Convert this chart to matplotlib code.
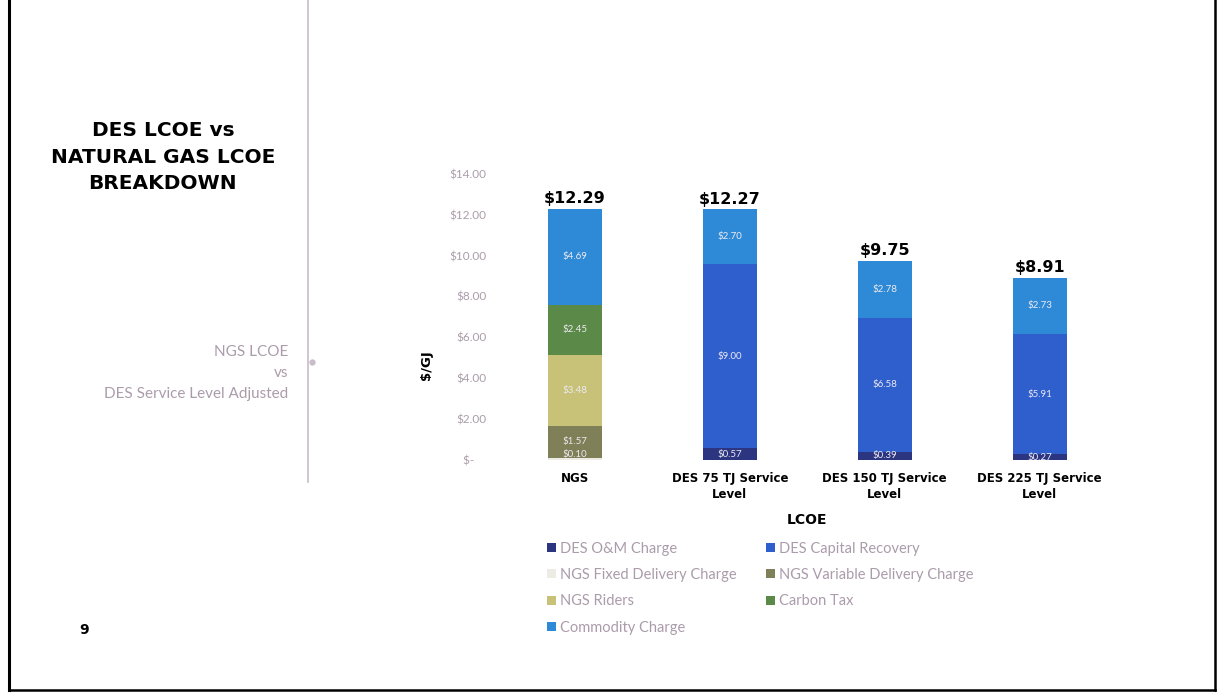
import numpy as np
import matplotlib.pyplot as plt
from matplotlib.lines import Line2D

# categories and stacked components ($/GJ)
categories = ["NGS", "DES 75 TJ Service\nLevel", "DES 150 TJ Service\nLevel", "DES 225 TJ Service\nLevel"]
des_om = [0.00, 0.57, 0.39, 0.27]
des_capital = [0.00, 9.00, 6.58, 5.91]
ngs_fixed = [0.10, 0.00, 0.00, 0.00]
ngs_variable = [1.57, 0.00, 0.00, 0.00]
ngs_riders = [3.48, 0.00, 0.00, 0.00]
carbon_tax = [2.45, 0.00, 0.00, 0.00]
commodity = [4.69, 2.70, 2.78, 2.73]

series_names = ["DES O&M Charge", "DES Capital Recovery", "NGS Fixed Delivery Charge",
                "NGS Variable Delivery Charge", "NGS Riders", "Carbon Tax", "Commodity Charge"]
series_vals = [des_om, des_capital, ngs_fixed, ngs_variable, ngs_riders, carbon_tax, commodity]
series_cols = ["#2b3580", "#2f5fcc", "#ecebe4", "#7f7f58", "#c8c178", "#5b8a48", "#2e8ad6"]

yticks = [0, 2, 4, 6, 8, 10, 12, 14]
ytick_labels = ["$-    ", "$2.00", "$4.00", "$6.00", "$8.00", "$10.00", "$12.00", "$14.00"]

MUTED = "#ab9cab"

fig = plt.figure(figsize=(12.25, 6.98), dpi=100)
fig.patch.set_facecolor("white")

# page frame (left, bottom, right) and side divider
fig.add_artist(Line2D([0.007, 0.007], [0.012, 1.0], transform=fig.transFigure,
                      color="black", linewidth=2.2))
fig.add_artist(Line2D([0.007, 0.992], [0.012, 0.012], transform=fig.transFigure,
                      color="black", linewidth=1.8))
fig.add_artist(Line2D([0.992, 0.992], [0.012, 1.0], transform=fig.transFigure,
                      color="black", linewidth=1.8))
fig.add_artist(Line2D([0.2515, 0.2515], [0.31, 1.0], transform=fig.transFigure,
                      color="#c8bcc8", linewidth=1.2))
fig.add_artist(Line2D([0.2545], [0.481], transform=fig.transFigure, marker="o",
                      markersize=3.5, color="#c8bcc8"))

fig.text(0.133, 0.775, "DES LCOE vs\nNATURAL GAS LCOE\nBREAKDOWN", ha="center", va="center",
         fontsize=14.5, fontweight="bold", linespacing=1.5, family="DejaVu Sans")
fig.text(0.235, 0.466, "NGS LCOE\nvs\nDES Service Level Adjusted", ha="right", va="center",
         fontsize=11, color=MUTED, linespacing=1.65, family="Lato")
fig.text(0.069, 0.098, "9", ha="center", va="center", fontsize=10, fontweight="bold")

ax = fig.add_axes([0.406, 0.341, 0.506, 0.410])
x = np.arange(len(categories))
bottom = np.zeros(len(categories))
for name, vals, col in zip(series_names, series_vals, series_cols):
    vals = np.array(vals)
    ax.bar(x, vals, 0.35, bottom=bottom, color=col, label=name)
    for xi, v, b in zip(x, vals, bottom):
        if v > 0.05:
            ypos = b + v / 2
            if v < 0.2:
                ypos = b + 0.25
            ax.text(xi, ypos, f"${v:.2f}", ha="center", va="center", fontsize=7,
                    color="#eeeaf2", family="Lato")
    bottom += vals

for xi, t in zip(x, bottom):
    ax.text(xi, t + 0.12, f"${t:.2f}", ha="center", va="bottom", fontsize=11.5,
            fontweight="bold", color="black")

ax.set_ylim(0, 14)
ax.set_xlim(-0.5, 3.5)
ax.set_yticks(yticks)
ax.set_yticklabels(ytick_labels, fontsize=8.5, color=MUTED, family="Lato")
ax.set_xticks(x)
ax.set_xticklabels(categories, fontsize=8.5, fontweight="bold", linespacing=1.3)
ax.tick_params(axis="y", length=0, pad=8)
ax.tick_params(axis="x", length=0, pad=9)
for s in ax.spines.values():
    s.set_visible(False)
ax.set_ylabel("$/GJ", fontsize=9.5, fontweight="bold")
ax.yaxis.set_label_coords(-0.104, 0.33)
ax.set_xlabel("LCOE", fontsize=10, fontweight="bold", labelpad=8)

# row-major legend order in two columns
handles, labels = ax.get_legend_handles_labels()
order = [0, 2, 4, 6, 1, 3, 5]
leg = fig.legend([handles[i] for i in order], [labels[i] for i in order], ncol=2,
                 loc="upper left", bbox_to_anchor=(0.436, 0.243), frameon=False,
                 handlelength=0.6, handleheight=0.6, handletextpad=0.3,
                 columnspacing=2.0, labelspacing=0.85, prop={"family": "Lato", "size": 10.5})
for t in leg.get_texts():
    t.set_color(MUTED)

fig.savefig("out.png", dpi=100, facecolor="white")
